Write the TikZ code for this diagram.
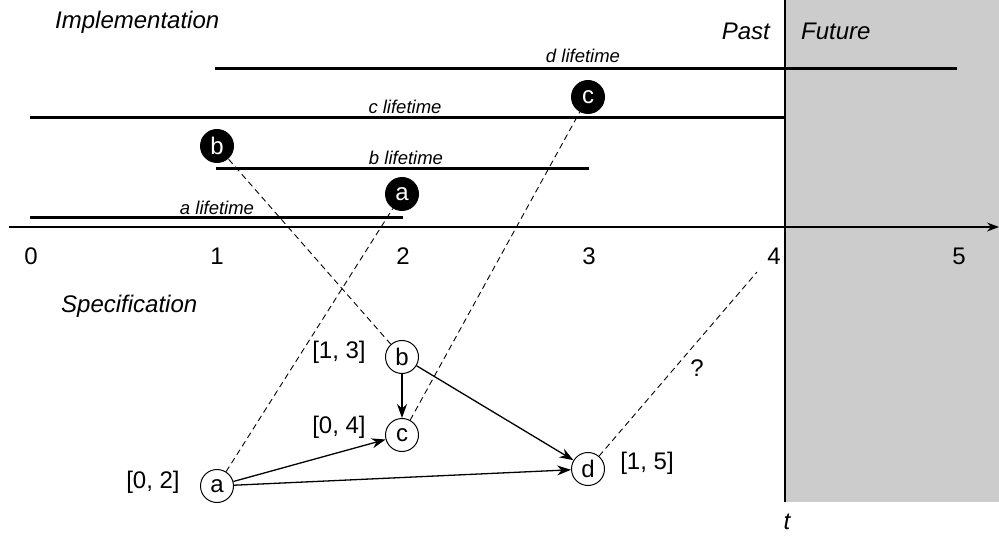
\documentclass[tikz,border=0pt]{standalone}
\usepackage{fontspec}
\setmainfont{Liberation Sans}
\usetikzlibrary{arrows.meta}
\newcommand{\bigf}{\fontsize{24}{28}\selectfont}
\newcommand{\lifef}{\fontsize{18.5}{22}\selectfont\itshape}
\begin{document}
\begin{tikzpicture}[x=1pt,y=-1pt,
  txt/.style={font=\bigf, inner sep=0pt},
  ital/.style={font=\bigf\itshape, inner sep=0pt},
  lifelbl/.style={font=\lifef, inner sep=0pt},
  lifeline/.style={line width=3pt},
  spec/.style={circle, draw, line width=1pt, fill=white, minimum size=33pt, inner sep=0pt, font=\bigf},
  impl/.style={circle, fill=black, text=white, minimum size=34pt, inner sep=0pt, font=\bigf},
  dep/.style={line width=1.3pt, -{Stealth[length=14pt,width=10pt]}},
  link/.style={dashed, line width=0.9pt, dash pattern=on 6pt off 4pt}]
\useasboundingbox (0,0) rectangle (999,537);
\fill[fill={rgb,255:red,204;green,204;blue,204}] (785,0) rectangle (999,502);
\draw[line width=1.3pt] (785,0) -- (785,502);
% axis
\coordinate (ax0) at (9,227);
\coordinate (ax1) at (999,227);
\draw[line width=1.3pt, -{Stealth[length=12pt,width=9pt]}] (ax0) -- (ax1);
\node[txt] (t0) at (31,256) {0};
\node[txt] (t1) at (217,256) {1};
\node[txt] (t2) at (403,256) {2};
\node[txt] (t3) at (589,256) {3};
\node[txt] (t4) at (774,256) {4};
\node[txt] (t5) at (959,256) {5};
\node[ital] (tlab) at (787,522) {t};
% headings
\node[ital, anchor=west] (impl) at (55,22) {Implementation};
\node[ital, anchor=west] (specl) at (61,306) {Specification};
\node[ital, anchor=east] (past) at (770,31) {Past};
\node[ital, anchor=west] (fut) at (801,31) {Future};
% lifetimes
\coordinate (d0) at (215,69); \coordinate (d1) at (957,69);
\coordinate (c0) at (30,118); \coordinate (c1) at (785,118);
\coordinate (b0) at (216,169); \coordinate (b1) at (589,169);
\coordinate (a0) at (30,218); \coordinate (a1) at (403,218);
\draw[lifeline] (d0) -- (d1);
\draw[lifeline] (c0) -- (c1);
\draw[lifeline] (b0) -- (b1);
\draw[lifeline] (a0) -- (a1);
\node[lifelbl] (dl) at (583,56) {d lifetime};
\node[lifelbl] (cl) at (405,107) {c lifetime};
\node[lifelbl] (bl) at (406,158) {b lifetime};
\node[lifelbl] (al) at (217,208) {a lifetime};
% implementation events
\node[impl] (ib) at (217,146) {b};
\node[impl] (ia) at (402,194) {a};
\node[impl] (ic) at (588,97) {c};
% specification nodes
\node[spec] (sb) at (402,357) {b};
\node[spec] (sc) at (402,435) {c};
\node[spec] (sa) at (217,486) {a};
\node[spec] (sd) at (588,469) {d};
\node[txt] (lb) at (339,352) {[1, 3]};
\node[txt] (lc) at (339,427) {[0, 4]};
\node[txt] (la) at (153,482) {[0, 2]};
\node[txt] (ld) at (647,463) {[1, 5]};
\node[txt] (q) at (697,368) {?};
\coordinate (dq) at (757,272);
% links
\draw[link] (sa) -- (ia);
\draw[link] (sb) -- (ib);
\draw[link] (sc) -- (ic);
\draw[link] (sd) -- (dq);
% dependencies
\draw[dep] (sb) -- (sc);
\draw[dep] (sa) -- (sc);
\draw[dep] (sa) -- (sd);
\draw[dep] (sb) -- (sd);
\end{tikzpicture}
\end{document}
